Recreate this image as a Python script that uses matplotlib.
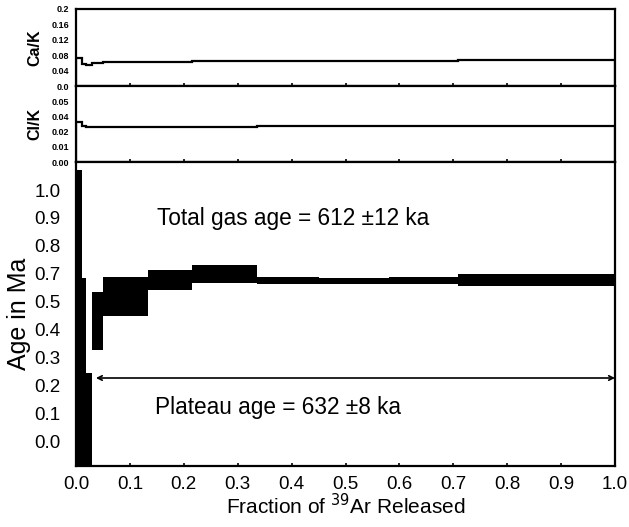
import numpy as np
import matplotlib
matplotlib.use("Agg")
import matplotlib.pyplot as plt

plt.rcParams['font.family'] = ['Liberation Sans', 'DejaVu Sans']

# Step boundaries (cumulative fraction of 39Ar released)
step_edges = [0.0, 0.011, 0.019, 0.029, 0.050, 0.133, 0.216, 0.336, 0.45, 0.58, 0.708, 0.85, 1.0]
# Apparent age envelope of each step (Ma): lower and upper 2-sigma bounds
age_low = [-0.2, -0.2, -0.2, 0.363, 0.500, 0.602, 0.629, 0.625, 0.625, 0.626, 0.618, 0.617]
age_high = [1.08, 0.65, 0.27, 0.594, 0.655, 0.681, 0.701, 0.653, 0.651, 0.652, 0.665, 0.665]
# Ca/K and Cl/K ratio of each step
ca_k = [0.072, 0.056, 0.055, 0.060, 0.062, 0.063, 0.064, 0.064, 0.065, 0.066, 0.067, 0.067]
cl_k = [0.026, 0.0235, 0.023, 0.023, 0.023, 0.023, 0.023, 0.0235, 0.024, 0.024, 0.024, 0.024]

plateau_age = 0.632
plateau_start, plateau_end = 0.037, 1.0
plateau_arrow_y = 0.251

x_ticks = [0.0, 0.1, 0.2, 0.3, 0.4, 0.5, 0.6, 0.7, 0.8, 0.9, 1.0]
age_tick_labels = ['0.0', '0.1', '0.2', '0.3', '0.4', '0.5', '0.7', '0.8', '0.9', '1.0']
cak_ticks = [0.0, 0.04, 0.08, 0.12, 0.16, 0.2]
cak_tick_labels = ['0.0', '0.04', '0.08', '0.12', '0.16', '0.2']
clk_ticks = [0.0, 0.01, 0.02, 0.03, 0.04]
clk_tick_labels = ['0.00', '0.01', '0.02', '0.04', '0.05']

fig = plt.figure(figsize=(6.29, 5.27), dpi=100)
L, R = 76 / 629, 615 / 629
H = 527


def frac(y0, y1):
    return [L, 1 - y1 / H, R - L, (y1 - y0) / H]


ax_ca = fig.add_axes(frac(9, 86))
ax_cl = fig.add_axes(frac(86, 162))
ax_age = fig.add_axes(frac(162, 466))

edges = np.array(step_edges)
widths = np.diff(edges)

for ax in (ax_ca, ax_cl, ax_age):
    ax.set_xlim(0, 1.0)
    for s in ax.spines.values():
        s.set_linewidth(1.6)
    ax.set_xticks(x_ticks)
    ax.tick_params(axis='x', direction='in', length=2.5, width=1.2, top=False)
    ax.tick_params(axis='y', length=0)

# Ca/K panel
ax_ca.stairs(ca_k, edges, color='black', linewidth=1.6)
ax_ca.set_ylim(0, 0.2)
ax_ca.set_yticks(cak_ticks)
ax_ca.set_yticklabels(cak_tick_labels, fontsize=6.5, fontweight='bold')
ax_ca.tick_params(axis='y', pad=5)
ax_ca.set_xticklabels([])
ax_ca.set_ylabel('Ca/K', fontsize=11.5, fontweight='bold')
ax_ca.yaxis.set_label_coords(-0.063, 0.5)

# Cl/K panel
ax_cl.stairs(cl_k, edges, color='black', linewidth=1.6)
ax_cl.set_ylim(0, 0.05)
ax_cl.set_yticks(clk_ticks)
ax_cl.set_yticklabels(clk_tick_labels, fontsize=6.5, fontweight='bold')
ax_cl.tick_params(axis='y', pad=5)
ax_cl.set_xticklabels([])
ax_cl.set_ylabel('Cl/K', fontsize=11.5, fontweight='bold')
ax_cl.yaxis.set_label_coords(-0.063, 0.5)

# Age spectrum
lows = np.array(age_low)
highs = np.array(age_high)
ax_age.bar(edges[:-1], highs - lows, width=widths, bottom=lows, align='edge',
           color='black', linewidth=0)
ax_age.set_ylim(-0.0996, 1.1116)
ax_age.set_yticks(np.linspace(0, 1.0, len(age_tick_labels)))
ax_age.set_yticklabels(age_tick_labels, fontsize=13.5)
ax_age.tick_params(axis='y', pad=11)
ax_age.set_xticklabels([f'{v:.1f}' for v in x_ticks], fontsize=13.5)
ax_age.tick_params(axis='x', pad=7)
ax_age.set_ylabel('Age in Ma', fontsize=18)
ax_age.yaxis.set_label_coords(-0.083, 0.5)
ax_age.set_xlabel('Fraction of $^{39}$Ar Released', fontsize=15, labelpad=0)

ax_age.annotate('', xy=(plateau_start, plateau_arrow_y), xytext=(plateau_end, plateau_arrow_y),
                arrowprops=dict(arrowstyle='<->', color='black', lw=1.2,
                                mutation_scale=8, shrinkA=0, shrinkB=0))

ax_age.text(0.151, 0.888, 'Total gas age = 612 \u00b112 ka', fontsize=16.3,
            va='center', ha='left')
ax_age.text(0.147, 0.132, f'Plateau age = {plateau_age * 1000:.0f} \u00b18 ka', fontsize=16.3,
            va='center', ha='left')

fig.savefig('out.png', dpi=100)
